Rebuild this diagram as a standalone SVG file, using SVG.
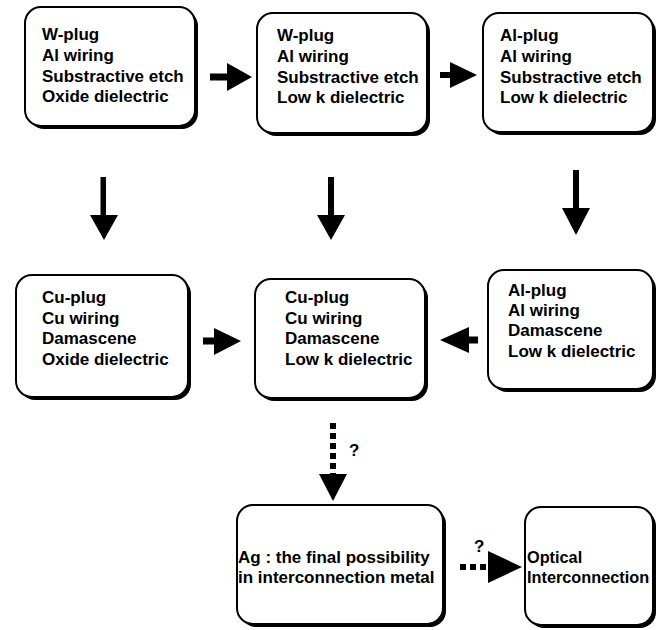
<svg xmlns="http://www.w3.org/2000/svg" width="659" height="630" viewBox="0 0 659 630">
<style>
.sh{fill:#000}
.bx{fill:#fff;stroke:#000;stroke-width:2}
.t{font-family:"Liberation Sans",Arial,sans-serif;font-weight:bold;font-size:17px;fill:#000}
.ar{fill:#000}
.dot{stroke:#000;stroke-width:6;stroke-dasharray:6 4;fill:none}
</style>
<rect width="659" height="630" fill="#fff"/>
<g id="connectors">
  <path class="ar" d="M210,73.5 H227 V63 L252,77 L227,91 V80.5 H210 Z"/>
  <path class="ar" d="M440,72 H450 V62 L477,75 L450,88 V78 H440 Z"/>
  <path class="ar" d="M100.5,177 H106 V215 H118 L104,240 L90,215 H100.5 Z"/>
  <path class="ar" d="M328,177 H334 V215 H345 L331,240 L317,215 H328 Z"/>
  <path class="ar" d="M573,170 H579 V208 H590 L576,235 L562,208 H573 Z"/>
  <path class="ar" d="M203,337.5 H214 V328 L241,341 L214,355 V344.5 H203 Z"/>
  <path class="ar" d="M478,336.5 H469 V327 L440,340 L469,353 V343.5 H478 Z"/>
  <line class="dot" x1="333" y1="423" x2="333" y2="474"/>
  <path class="ar" d="M319,474 H347 L333,501 Z"/>
  <text class="t" x="349" y="456">?</text>
  <line class="dot" x1="460" y1="567" x2="489" y2="567"/>
  <path class="ar" d="M488,551 L522,567 L488,583 Z"/>
  <text class="t" x="474" y="552">?</text>
</g>
<g id="n1">
  <rect class="sh" x="28" y="10" width="170" height="119" rx="16"/>
  <rect class="bx" x="25" y="7" width="170" height="119" rx="16"/>
  <text class="t" x="42" y="40">W-plug</text>
  <text class="t" x="42" y="61">Al wiring</text>
  <text class="t" x="42" y="82">Substractive etch</text>
  <text class="t" x="42" y="102">Oxide dielectric</text>
</g>
<g id="n2">
  <rect class="sh" x="260" y="16" width="170" height="120" rx="16"/>
  <rect class="bx" x="257" y="13" width="170" height="120" rx="16"/>
  <text class="t" x="277" y="41">W-plug</text>
  <text class="t" x="277" y="62">Al wiring</text>
  <text class="t" x="277" y="83">Substractive etch</text>
  <text class="t" x="277" y="103">Low k dielectric</text>
</g>
<g id="n3">
  <rect class="sh" x="486" y="16" width="170" height="119" rx="16"/>
  <rect class="bx" x="483" y="13" width="170" height="119" rx="16"/>
  <text class="t" x="500" y="41">Al-plug</text>
  <text class="t" x="500" y="62">Al wiring</text>
  <text class="t" x="500" y="83">Substractive etch</text>
  <text class="t" x="500" y="103">Low k dielectric</text>
</g>
<g id="n4">
  <rect class="sh" x="19" y="278" width="172" height="122" rx="16"/>
  <rect class="bx" x="16" y="275" width="172" height="122" rx="16"/>
  <text class="t" x="42" y="303">Cu-plug</text>
  <text class="t" x="42" y="324">Cu wiring</text>
  <text class="t" x="42" y="344">Damascene</text>
  <text class="t" x="42" y="365">Oxide dielectric</text>
</g>
<g id="n5">
  <rect class="sh" x="258" y="282" width="170" height="119" rx="16"/>
  <rect class="bx" x="255" y="279" width="170" height="119" rx="16"/>
  <text class="t" x="285" y="303">Cu-plug</text>
  <text class="t" x="285" y="324">Cu wiring</text>
  <text class="t" x="285" y="344">Damascene</text>
  <text class="t" x="285" y="365">Low k dielectric</text>
</g>
<g id="n6">
  <rect class="sh" x="491" y="273" width="165" height="119" rx="16"/>
  <rect class="bx" x="488" y="270" width="165" height="119" rx="16"/>
  <text class="t" x="508" y="296">Al-plug</text>
  <text class="t" x="508" y="316">Al wiring</text>
  <text class="t" x="508" y="336">Damascene</text>
  <text class="t" x="508" y="357">Low k dielectric</text>
</g>
<g id="n7">
  <rect class="sh" x="240" y="508" width="206" height="119" rx="16"/>
  <rect class="bx" x="237" y="505" width="206" height="119" rx="16"/>
  <text class="t" x="238" y="563">Ag : the final possibility</text>
  <text class="t" x="238" y="583">in interconnection metal</text>
</g>
<g id="n8">
  <rect class="sh" x="528" y="510" width="128" height="118" rx="16"/>
  <rect class="bx" x="525" y="507" width="128" height="118" rx="16"/>
  <text class="t" x="527" y="563" style="font-size:16.3px">Optical</text>
  <text class="t" x="527" y="583" style="font-size:16.3px">Interconnection</text>
</g>
</svg>
